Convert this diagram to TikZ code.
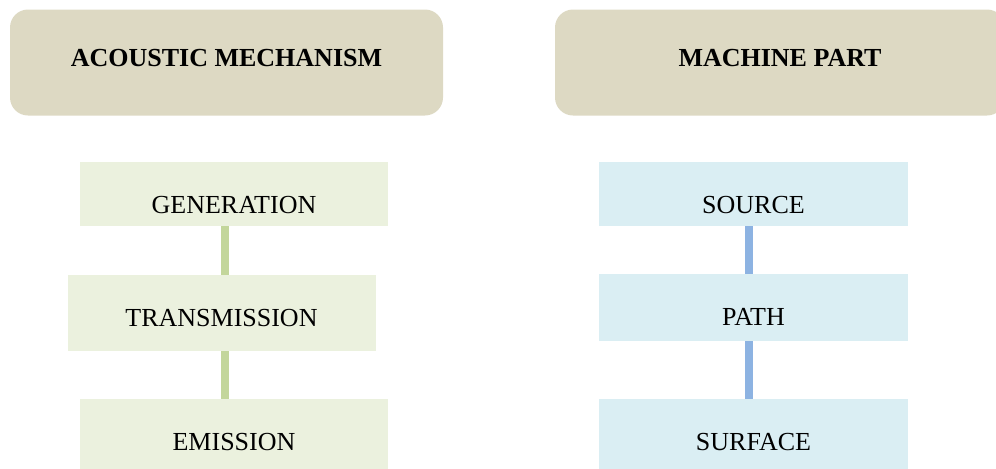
\documentclass[tikz,border=0pt]{standalone}
\usepackage{fontspec}
\setmainfont{Liberation Serif}
\definecolor{headtan}{HTML}{DDD9C3}
\definecolor{stagegreen}{HTML}{EBF1DE}
\definecolor{linkgreen}{HTML}{C3D69B}
\definecolor{stageblue}{HTML}{DAEEF3}
\definecolor{linkblue}{HTML}{8DB3E2}
\tikzset{
  headbox/.style={fill=headtan, rounded corners=9pt, inner sep=0pt, minimum height=53pt},
  greenbox/.style={fill=stagegreen, inner sep=0pt, minimum width=154pt},
  bluebox/.style={fill=stageblue, inner sep=0pt, minimum width=154.5pt},
  boxtext/.style={anchor=base, inner sep=0pt},
  greenlink/.style={draw=linkgreen, line width=4pt},
  bluelink/.style={draw=linkblue, line width=4pt}
}
\begin{document}
\begin{tikzpicture}[x=0.5pt, y=-0.5pt, font=\fontsize{13}{15.6}\selectfont]
\clip (0,0) rectangle (996,468);
\useasboundingbox (0,0) rectangle (996,468);
% headers
\node[headbox, minimum width=216.5pt] (acoustic) at (226.5,62.5) {};
\node[headbox, minimum width=225pt] (machine) at (780,62.5) {};
\node[boxtext, font=\fontsize{13}{15.6}\selectfont\bfseries] (acousticT) at ([yshift=-28.75pt]acoustic.north) {ACOUSTIC MECHANISM};
\node[boxtext, font=\fontsize{13}{15.6}\selectfont\bfseries] (machineT) at ([yshift=-28.75pt]machine.north) {MACHINE PART};
% acoustic chain
\node[greenbox, minimum height=32pt] (gen) at (234,194) {};
\node[greenbox, minimum height=38pt] (trans) at (221.5,313) {};
\node[greenbox, minimum height=39pt] (emis) at (234,438) {};
\node[boxtext] (genT) at ([yshift=-26pt]gen.north) {GENERATION};
\node[boxtext] (transT) at ([yshift=-26pt]trans.north) {TRANSMISSION};
\node[boxtext] (emisT) at ([yshift=-26pt]emis.north) {EMISSION};
\draw[greenlink] ([xshift=-4.5pt]gen.south) -- ([xshift=-4.5pt]gen.south |- trans.north);
\draw[greenlink] ([xshift=1.75pt]trans.south) -- ([xshift=1.75pt]trans.south |- emis.north);
% machine chain
\node[bluebox, minimum height=32pt] (source) at (753.5,194) {};
\node[bluebox, minimum height=33.5pt] (path) at (753.5,307.5) {};
\node[bluebox, minimum height=39pt] (surf) at (753.5,438) {};
\node[boxtext] (sourceT) at ([yshift=-26pt]source.north) {SOURCE};
\node[boxtext] (pathT) at ([yshift=-26pt]path.north) {PATH};
\node[boxtext] (surfT) at ([yshift=-26pt]surf.north) {SURFACE};
\draw[bluelink] ([xshift=-2.25pt]source.south) -- ([xshift=-2.25pt]source.south |- path.north);
\draw[bluelink] ([xshift=-2.25pt]path.south) -- ([xshift=-2.25pt]path.south |- surf.north);
\end{tikzpicture}
\end{document}
